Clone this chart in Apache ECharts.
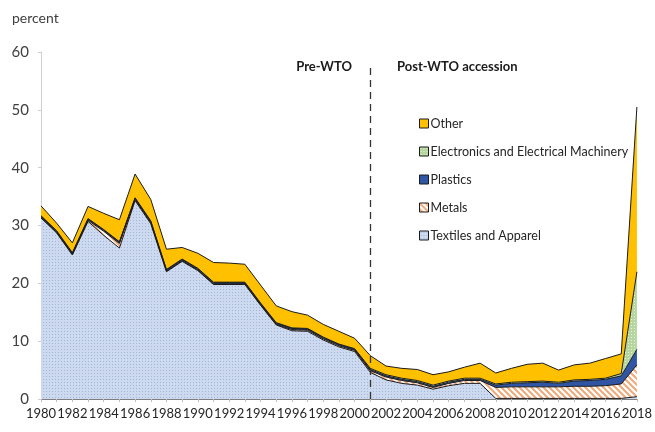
<!DOCTYPE html>
<html><head><meta charset="utf-8">
<script src="https://cdn.jsdelivr.net/npm/echarts@6/dist/echarts.min.js"></script>
<style>html,body{margin:0;padding:0;background:#fff}#c{width:655px;height:432px}</style>
</head><body><div id="c"></div>
<script>
const years = ['1980','1981','1982','1983','1984','1985','1986','1987','1988','1989','1990','1991','1992','1993','1994','1995','1996','1997','1998','1999','2000','2001','2002','2003','2004','2005','2006','2007','2008','2009','2010','2011','2012','2013','2014','2015','2016','2017','2018'];
const textiles =    [31.3,28.7,24.9,30.7,28.3,26.1,34.3,30.3,22.0,23.8,22.2,19.8,19.8,19.8,16.2,12.8,11.8,11.7,10.2,9.0,8.2,4.6,3.3,2.7,2.4,1.7,2.3,2.7,2.7,0.1,0.1,0.1,0.1,0.1,0.1,0.1,0.1,0.1,0.4];
const metals =      [0.1,0.1,0.1,0.2,0.7,0.8,0.2,0.2,0.1,0.1,0.1,0.1,0.1,0.1,0.1,0.1,0.2,0.2,0.2,0.2,0.2,0.3,0.5,0.5,0.4,0.3,0.4,0.5,0.5,1.9,2.0,2.0,2.0,2.0,2.1,2.1,2.2,2.5,5.5];
const plastics =    [0.2,0.2,0.2,0.2,0.2,0.2,0.2,0.2,0.2,0.2,0.2,0.2,0.2,0.2,0.2,0.2,0.2,0.2,0.2,0.2,0.2,0.2,0.2,0.2,0.2,0.2,0.2,0.2,0.2,0.4,0.6,0.7,0.8,0.6,0.9,1.0,1.1,1.4,2.7];
const electronics = [0.1,0.1,0.1,0.1,0.1,0.1,0.1,0.1,0.1,0.1,0.1,0.1,0.1,0.1,0.1,0.1,0.1,0.1,0.1,0.1,0.1,0.2,0.2,0.2,0.2,0.2,0.2,0.2,0.2,0.2,0.2,0.2,0.2,0.2,0.2,0.2,0.2,0.4,13.4];
const other =       [1.7,1.3,1.7,2.1,2.8,3.8,4.1,3.7,3.5,2.0,2.6,3.4,3.3,3.1,3.1,2.9,2.8,2.3,2.2,2.2,1.8,2.2,1.5,1.7,1.9,1.8,1.6,1.9,2.6,1.9,2.4,3.0,3.1,2.1,2.6,2.8,3.4,3.4,28.5];
const yTicks = [0,10,20,30,40,50,60];

function pattern(bg, fg, kind){
  const c = document.createElement('canvas');
  const s = kind==='hatch' ? 6 : 3;
  c.width = s; c.height = s;
  const g = c.getContext('2d');
  g.fillStyle = bg; g.fillRect(0,0,s,s);
  g.fillStyle = fg;
  if(kind==='hatch'){
    g.strokeStyle = fg; g.lineWidth = 2;
    g.beginPath();
    g.moveTo(-1,-1); g.lineTo(s+1,s+1);
    g.moveTo(-1-s,-1); g.lineTo(1,s+1);
    g.moveTo(s-1,-1); g.lineTo(2*s+1,s+1);
    g.stroke();
  } else {
    g.fillRect(1,1,1,1);
  }
  return {image:c, repeat:'repeat'};
}
const pTextiles = pattern('#cdd9ef','#a3b6d9','dots');
const pMetals = pattern('#ffffff','#f0a878','hatch');
const pElec = pattern('#b5d69e','#e6f2dc','dots');
const cPlastics = '#2f55a4';
const cOther = '#ffc000';

const FONT = 'Lato';
function mk(name, data, fill, solid){
  return {
    name, type:'line', stack:'total', data, symbol:'none',
    lineStyle:{color:'#1a1a1a', width:1},
    itemStyle:{color:solid, borderColor:'#1a1a1a', borderWidth:1},
    areaStyle:{color:fill, opacity:1},
    emphasis:{disabled:true}
  };
}
const chart = echarts.init(document.getElementById('c'), null, {renderer:'canvas'});
const series = [
  mk('Textiles and Apparel', textiles, pTextiles, '#cdd9ef'),
  mk('Metals', metals, pMetals, '#f4b183'),
  mk('Plastics', plastics, cPlastics, cPlastics),
  mk('Electronics and Electrical Machinery', electronics, pElec, '#b5d69e'),
  mk('Other', other, cOther, cOther)
];
series[0].markLine = {
  silent:true, symbol:'none', label:{show:false},
  lineStyle:{color:'#333', type:[7,5], width:1.3},
  data:[[{coord:['2001',0]},{coord:['2001',58.1]}]]
};
chart.setOption({
  animation:false,
  grid:{left:41, right:16, top:52, bottom:33},
  legend:{
    orient:'vertical', left:414, top:112, itemGap:15, itemWidth:9, itemHeight:9,
    icon:'rect', selectedMode:false,
    textStyle:{fontFamily:FONT, fontSize:12.5, color:'#262626', padding:[0,0,0,-3]},
    itemStyle:{borderColor:'#1a1a1a', borderWidth:1},
    data:[
      {name:'Other', itemStyle:{color:cOther}},
      {name:'Electronics and Electrical Machinery', itemStyle:{color:pElec}},
      {name:'Plastics', itemStyle:{color:cPlastics}},
      {name:'Metals', itemStyle:{color:pMetals}},
      {name:'Textiles and Apparel', itemStyle:{color:pTextiles}}
    ]
  },
  xAxis:{
    type:'category', data:years, boundaryGap:false,
    axisLine:{lineStyle:{color:'#7f7f7f', width:1.2}},
    axisTick:{show:true, interval:0, length:3, lineStyle:{color:'#bfbfbf'}},
    axisLabel:{interval:1, fontFamily:FONT, fontSize:13, color:'#262626', margin:8}
  },
  yAxis:{
    type:'value', min:0, max:60, interval:10,
    axisLine:{show:true, lineStyle:{color:'#d0d0d0'}},
    axisTick:{show:true, inside:false, length:3, lineStyle:{color:'#d0d0d0'}},
    splitLine:{show:false},
    axisLabel:{fontFamily:FONT, fontSize:15, color:'#404040', margin:12,
      formatter:v=>yTicks.includes(v)?String(v):''}
  },
  graphic:[
    {type:'text', left:12, top:11, style:{text:'percent', font:'14px Lato', fill:'#404040'}},
    {type:'text', right:303, top:60, style:{text:'Pre-WTO', font:'bold 13px Lato', fill:'#1a1a1a'}},
    {type:'text', left:397, top:60, style:{text:'Post-WTO accession', font:'bold 13px Lato', fill:'#1a1a1a'}}
  ],
  series
});
</script></body></html>
